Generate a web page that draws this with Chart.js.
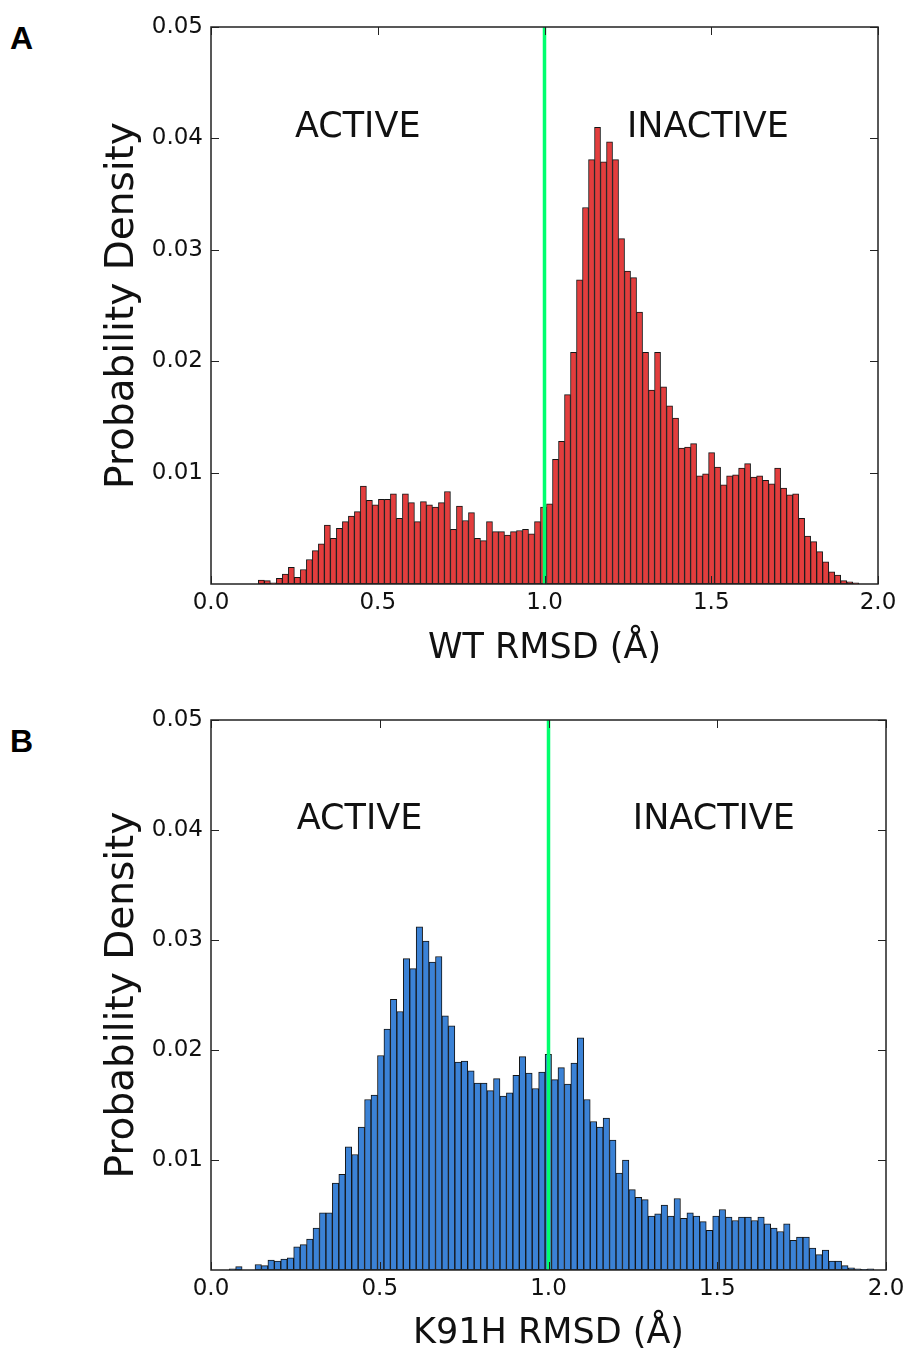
<!DOCTYPE html>
<html>
<head>
<meta charset="utf-8">
<title>RMSD probability density</title>
<script src="https://cdn.jsdelivr.net/npm/chart.js@4/dist/chart.umd.min.js"></script>
<style>
  html, body { margin: 0; padding: 0; background: #fff; }
  body { width: 913px; height: 1351px; position: relative; overflow: hidden; }
  canvas { position: absolute; left: 0; }
  #chartA { top: 0; }
  #chartB { top: 690px; }
  .panel { position: absolute; left: 10px; font: bold 32px "Liberation Sans", Arial, sans-serif; color: #000; }
</style>
</head>
<body>
<div class="panel" style="top:20px">A</div>
<div class="panel" style="top:723px">B</div>
<canvas id="chartA" width="913" height="666"></canvas>
<canvas id="chartB" width="913" height="661"></canvas>
<script>
// axis ticks and labels
var xTicks = [0.0, 0.5, 1.0, 1.5, 2.0];
var yTicks = [0.01, 0.02, 0.03, 0.04, 0.05];
var regionNames = ["ACTIVE", "INACTIVE"];
var boundary = 1.0;

// WT histogram (100 bins)
var wtBinStart = 0.142;
var wtBinWidth = 0.018;
var wtDensity = [
  0.00036, 0.0003, 0.0001, 0.0005, 0.0009, 0.0015, 0.0006, 0.0013, 0.0022, 0.003,
  0.0036, 0.0053, 0.0041, 0.005, 0.0056, 0.0061, 0.0065, 0.0088, 0.0075, 0.0071,
  0.0076, 0.0076, 0.0081, 0.0059, 0.0081, 0.0073, 0.0056, 0.0074, 0.0071, 0.0069,
  0.0073, 0.0083, 0.0049, 0.007, 0.0057, 0.0064, 0.0041, 0.0039, 0.0056, 0.0047,
  0.0047, 0.0044, 0.0047, 0.0048, 0.0049, 0.0045, 0.0056, 0.0069,
  0.0072, 0.0112, 0.0128, 0.017, 0.0208, 0.0273, 0.0338, 0.0381, 0.041, 0.0379,
  0.0397, 0.0381, 0.031, 0.0281, 0.0275, 0.0244, 0.0208, 0.0174, 0.0208, 0.0177,
  0.016, 0.0149, 0.0122, 0.0123, 0.0126, 0.0097, 0.0099, 0.0118, 0.0105,
  0.0089, 0.0097, 0.0098, 0.0104, 0.0108, 0.0096, 0.0097, 0.0093, 0.009, 0.0104,
  0.0086, 0.008, 0.0081, 0.0059, 0.0043, 0.0038, 0.0029, 0.002, 0.0011, 0.0008,
  0.0003, 0.0002, 0.0001
];

// K91H histogram (100 bins)
var k91hBinStart = 0.054;
var k91hBinWidth = 0.0191;
var k91hDensity = [
  0.0001, 0.0003, 0, 0, 0.0005, 0.0004, 0.0009, 0.0008, 0.001, 0.0011,
  0.0021, 0.0023, 0.0028, 0.0038, 0.0052, 0.0052, 0.0079, 0.0087, 0.0112, 0.0105,
  0.013, 0.0155, 0.0159, 0.0195, 0.0219, 0.0246, 0.0235, 0.0283, 0.0274, 0.0312,
  0.0299, 0.028, 0.0285, 0.0231, 0.0222, 0.0189, 0.019, 0.0181, 0.017, 0.017,
  0.0163, 0.0174, 0.0158, 0.0161, 0.0177, 0.0194, 0.0179, 0.0165, 0.018, 0.0196,
  0.0173, 0.0184, 0.0169, 0.0188, 0.0211, 0.0155, 0.0135, 0.013, 0.0138, 0.0118,
  0.0088, 0.01, 0.0073, 0.0066, 0.0064, 0.0049, 0.0051, 0.0059, 0.0049, 0.0065,
  0.0047, 0.0052, 0.0049, 0.0044, 0.0036, 0.0049, 0.0055, 0.0048, 0.0045, 0.0048,
  0.0048, 0.0045, 0.0048, 0.0042, 0.0038, 0.0035, 0.0042, 0.0027, 0.003, 0.003,
  0.002, 0.0014, 0.0018, 0.0008, 0.0008, 0.0004, 0.0002, 0.0001, 0.00005, 0.0001
];

var labelX = [0.44, 1.49];
var labelY = 0.0409;

// frame, inward ticks and region names
var framePlugin = {
  id: "frame",
  afterDraw: function (chart) {
    var ctx = chart.ctx;
    var a = chart.chartArea;
    var x = chart.scales.x;
    var y = chart.scales.y;
    ctx.save();
    ctx.strokeStyle = "#222";
    ctx.lineWidth = 1;
    ctx.beginPath();
    xTicks.forEach(function (v) {
      var px = Math.round(x.getPixelForValue(v)) + 0.5;
      ctx.moveTo(px, a.bottom); ctx.lineTo(px, a.bottom - 8);
      ctx.moveTo(px, a.top); ctx.lineTo(px, a.top + 8);
    });
    yTicks.forEach(function (v) {
      var py = Math.round(y.getPixelForValue(v)) + 0.5;
      ctx.moveTo(a.left, py); ctx.lineTo(a.left + 8, py);
      ctx.moveTo(a.right, py); ctx.lineTo(a.right - 8, py);
    });
    ctx.stroke();
    ctx.lineWidth = 1.5;
    ctx.strokeRect(a.left, a.top, a.right - a.left, a.bottom - a.top);

    ctx.fillStyle = "#111";
    ctx.font = '35px "DejaVu Sans"';
    ctx.textAlign = "center";
    ctx.textBaseline = "middle";
    regionNames.forEach(function (t, i) {
      ctx.fillText(t, x.getPixelForValue(labelX[i]), y.getPixelForValue(labelY));
    });
    ctx.restore();
  }
};

function makeChart(id, start, width, density, fill, xTitle, pad, axisH) {
  var bars = density.map(function (d, i) {
    return { x: start + width * (i + 0.5), y: d };
  });

  return new Chart(document.getElementById(id), {
    data: {
      datasets: [
        {
          type: "line",
          data: [{ x: boundary, y: 0 }, { x: boundary, y: 0.05 }],
          borderColor: "#00ff6e",
          borderWidth: 3.5,
          pointRadius: 0,
          order: 0
        },
        {
          type: "bar",
          data: bars,
          backgroundColor: fill,
          borderColor: "#141414",
          borderWidth: 1,
          borderSkipped: false,
          barPercentage: 1,
          categoryPercentage: 1,
          order: 1
        }
      ]
    },
    options: {
      responsive: false,
      animation: false,
      layout: { padding: pad },
      plugins: { legend: { display: false }, tooltip: { enabled: false } },
      scales: {
        x: {
          type: "linear",
          min: 0,
          max: 2,
          offset: false,
          grid: { display: false, drawTicks: false, offset: false },
          border: { display: false },
          afterBuildTicks: function (ax) {
            ax.ticks = xTicks.map(function (v) { return { value: v }; });
          },
          afterFit: function (ax) { ax.height = axisH; },
          ticks: {
            callback: function (v) { return Number(v).toFixed(1); },
            color: "#111",
            font: { family: "DejaVu Sans", size: 23 },
            padding: 5,
            maxRotation: 0,
            autoSkip: false
          },
          title: {
            display: true,
            text: xTitle,
            color: "#111",
            font: { family: "DejaVu Sans", size: 35, lineHeight: 1 },
            padding: 0
          }
        },
        y: {
          type: "linear",
          min: 0,
          max: 0.05,
          grid: { display: false, drawTicks: false },
          border: { display: false },
          afterBuildTicks: function (ax) {
            ax.ticks = yTicks.map(function (v) { return { value: v }; });
          },
          afterFit: function (ax) { ax.width = 116; },
          ticks: {
            callback: function (v) { return Number(v).toFixed(2); },
            color: "#111",
            font: { family: "DejaVu Sans", size: 23 },
            padding: 8
          },
          title: {
            display: true,
            text: "Probability Density",
            color: "#111",
            font: { family: "DejaVu Sans", size: 39, lineHeight: 1.2 },
            padding: { top: 4, bottom: 0 }
          }
        }
      }
    },
    plugins: [framePlugin]
  });
}

makeChart("chartA", wtBinStart, wtBinWidth, wtDensity, "#e33d3d", "WT RMSD (\u00c5)",
  { left: 95, right: 35, top: 27, bottom: 0 }, 82);
makeChart("chartB", k91hBinStart, k91hBinWidth, k91hDensity, "#3b82d6", "K91H RMSD (\u00c5)",
  { left: 95, right: 27, top: 30, bottom: 0 }, 81);
</script>
</body>
</html>
